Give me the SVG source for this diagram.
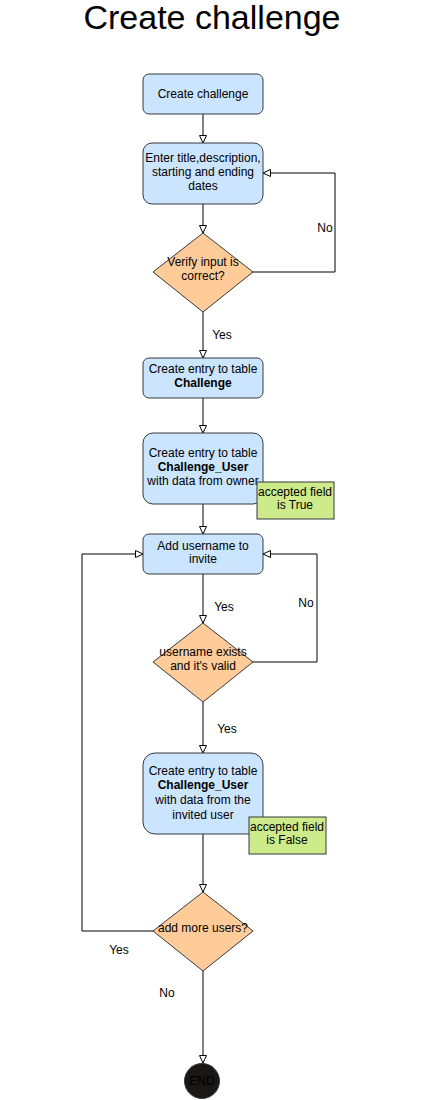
<svg xmlns="http://www.w3.org/2000/svg" width="426" height="1100" viewBox="0 0 426 1100">
  <defs>
    <marker id="open" markerUnits="userSpaceOnUse" markerWidth="10" markerHeight="10" refX="8" refY="4" orient="auto">
      <path d="M0.5,0.5 L8,4 L0.5,7.5 Z" fill="#ffffff" stroke="#000000" stroke-width="1"/>
    </marker>
  </defs>
  <style>
    text { font-family: "Liberation Sans", Arial, sans-serif; font-size: 12px; fill: #000000; text-anchor: middle; }
    .title { font-size: 34px; }
    .box { fill: #cce5ff; stroke: #36393d; stroke-width: 1; }
    .dec { fill: #ffcc99; stroke: #36393d; stroke-width: 1; }
    .note { fill: #cdeb8b; stroke: #36393d; stroke-width: 1; }
    .edge { fill: none; stroke: #000000; stroke-width: 1; }
    .arr { marker-end: url(#open); }
    .b { font-weight: bold; }
  </style>

  <text class="title" x="212" y="29">Create challenge</text>

  <!-- connectors -->
  <g id="connectors">
    <path class="edge arr" d="M203,114 V143"/>
    <path class="edge arr" d="M203,204 V233"/>
    <path class="edge arr" d="M252,272 H335 V173 H263"/>
    <path class="edge arr" d="M203,312 V358"/>
    <path class="edge arr" d="M203,398 V433"/>
    <path class="edge arr" d="M203,504 V534"/>
    <path class="edge arr" d="M203,574 V623"/>
    <path class="edge arr" d="M252,662 H317 V554 H263"/>
    <path class="edge arr" d="M203,702 V753"/>
    <path class="edge arr" d="M203,834 V892"/>
    <path class="edge arr" d="M153,931 H82 V554 H143"/>
    <path class="edge arr" d="M203,971 V1063"/>
    <text x="325" y="232">No</text>
    <text x="222" y="339">Yes</text>
    <text x="224" y="611">Yes</text>
    <text x="306" y="607">No</text>
    <text x="227" y="733">Yes</text>
    <text x="119" y="954">Yes</text>
    <text x="167" y="997">No</text>
  </g>

  <g id="start">
    <rect class="box" x="143" y="74" width="120" height="40" rx="6"/>
    <text x="203" y="98">Create challenge</text>
  </g>

  <g id="enter-data">
    <rect class="box" x="143" y="143" width="120" height="61" rx="9"/>
    <text x="203" y="162">Enter title,description,</text>
    <text x="203" y="176">starting and ending</text>
    <text x="203" y="190">dates</text>
  </g>

  <g id="verify-input">
    <polygon class="dec" points="203,233 253,272 203,312 153,272"/>
    <text x="203" y="266">Verify input is</text>
    <text x="203" y="280">correct?</text>
  </g>

  <g id="entry-challenge">
    <rect class="box" x="143" y="358" width="120" height="40" rx="6"/>
    <text x="203" y="373">Create entry to table</text>
    <text class="b" x="203" y="387">Challenge</text>
  </g>

  <g id="entry-owner">
    <rect class="box" x="143" y="433" width="120" height="71" rx="10"/>
    <text x="203" y="457">Create entry to table</text>
    <text class="b" x="203" y="471">Challenge_User</text>
    <text x="203" y="485">with data from owner</text>
  </g>

  <g id="note-true">
    <rect class="note" x="257" y="482" width="77" height="37"/>
    <text x="295" y="496">accepted field</text>
    <text x="295" y="509">is True</text>
  </g>

  <g id="add-username">
    <rect class="box" x="143" y="534" width="120" height="40" rx="6"/>
    <text x="203" y="550">Add username to</text>
    <text x="203" y="563">invite</text>
  </g>

  <g id="username-valid">
    <polygon class="dec" points="203,623 253,662 203,702 153,662"/>
    <text x="203" y="656">username exists</text>
    <text x="203" y="670">and it's valid</text>
  </g>

  <g id="entry-invited">
    <rect class="box" x="143" y="753" width="120" height="81" rx="12"/>
    <text x="203" y="775">Create entry to table</text>
    <text class="b" x="203" y="789">Challenge_User</text>
    <text x="203" y="804">with data from the</text>
    <text x="203" y="819">invited user</text>
  </g>

  <g id="note-false">
    <rect class="note" x="249" y="817" width="77" height="37"/>
    <text x="287" y="831">accepted field</text>
    <text x="287" y="844">is False</text>
  </g>

  <g id="more-users">
    <polygon class="dec" points="203,892 253,931 203,971 153,931"/>
    <text x="203" y="932">add more users?</text>
  </g>

  <g id="end">
    <circle cx="202" cy="1081" r="17.5" fill="#1a1714" stroke="#36393d"/>
    <text x="202" y="1085">END</text>
  </g>
</svg>
